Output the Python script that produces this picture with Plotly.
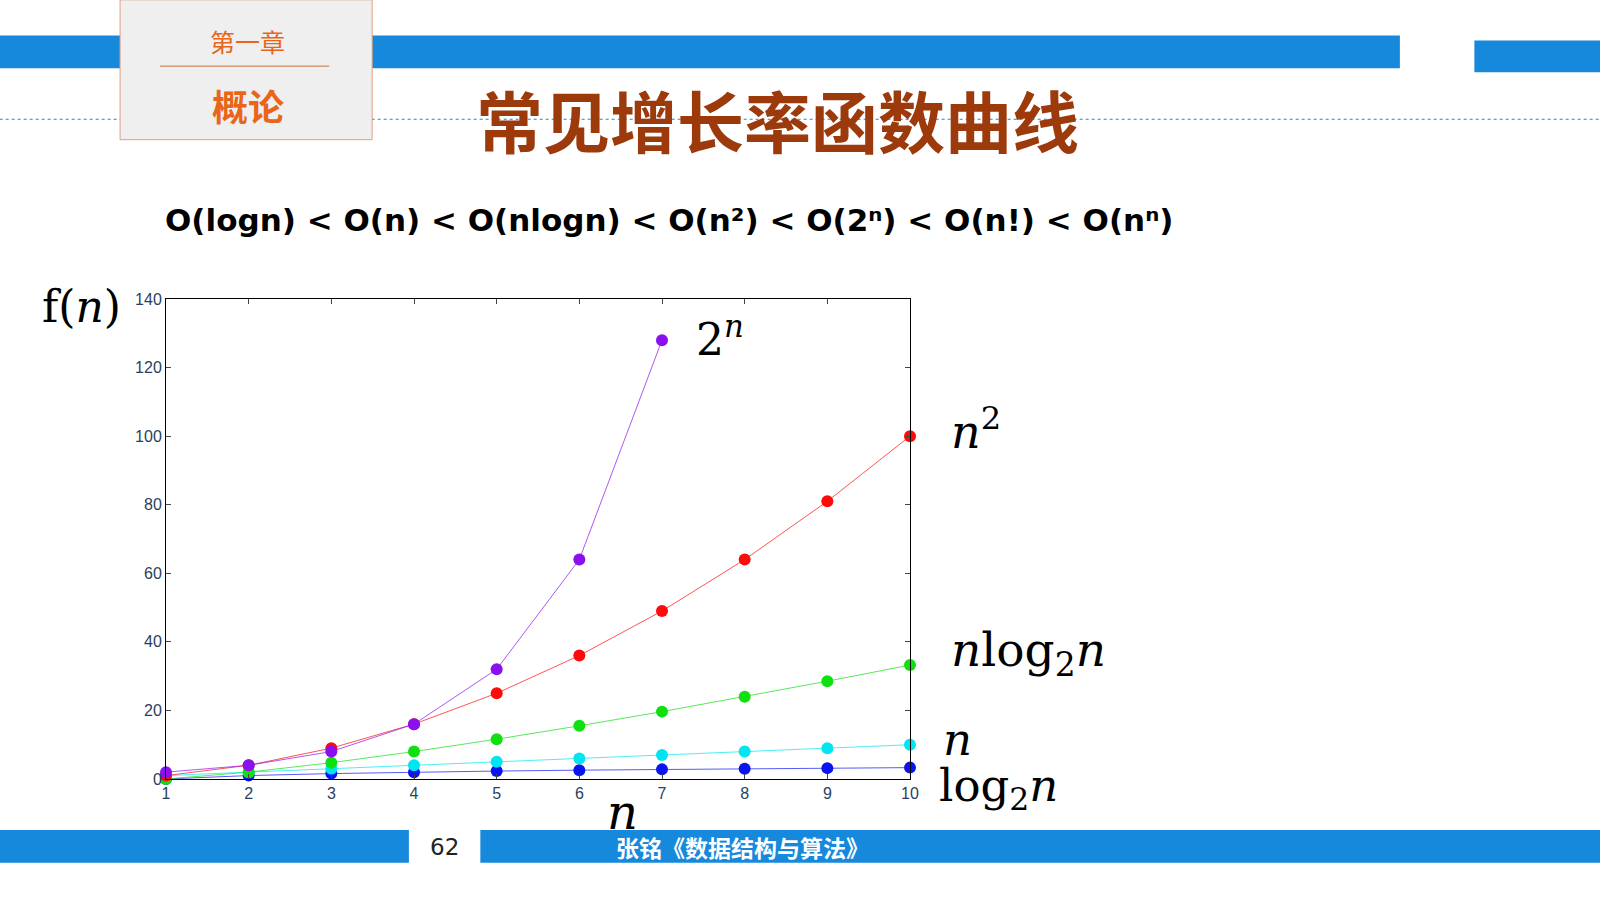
import plotly.graph_objects as go

n_all = [1, 2, 3, 4, 5, 6, 7, 8, 9, 10]
n_exp = [1, 2, 3, 4, 5, 6, 7]
pow2 = [2, 4, 8, 16, 32, 64, 128]
sq = [1, 4, 9, 16, 25, 36, 49, 64, 81, 100]
nlogn = [0, 2, 4.75, 8, 11.61, 15.51, 19.65, 24, 28.53, 33.22]
lin = [1, 2, 3, 4, 5, 6, 7, 8, 9, 10]
logn = [0, 1, 1.58, 2, 2.32, 2.58, 2.81, 3, 3.17, 3.32]
x_ticks = [1, 2, 3, 4, 5, 6, 7, 8, 9, 10]
y_ticks = [0, 20, 40, 60, 80, 100, 120, 140]

series = [
    (n_all, logn, "#0a14f0"),
    (n_all, lin, "#00e6f0"),
    (n_all, nlogn, "#10e010"),
    (n_all, sq, "#ff0a0a"),
    (n_exp, pow2, "#8a10f0"),
]

fig = go.Figure()
for xs, ys, c in series:
    fig.add_trace(go.Scatter(x=xs, y=ys, mode="lines+markers",
                             line=dict(color=c, width=0.7),
                             marker=dict(color=c, size=12), showlegend=False,
                             cliponaxis=False))

S = 1600 / 1568
W0, W1 = 163 * S, 892 * S
H0, H1 = 763 * S, 293 * S
def px(x): return (x * S - W0) / (W1 - W0)
def py(y): return (H0 - y * S) / (H0 - H1)

shapes = [
    dict(type="rect", xref="paper", yref="paper", x0=px(0), x1=px(1372), y0=py(67), y1=py(35),
         fillcolor="#1689dc", line_width=0),
    dict(type="rect", xref="paper", yref="paper", x0=px(1445), x1=px(1600), y0=py(71), y1=py(40),
         fillcolor="#1689dc", line_width=0),
    dict(type="line", xref="paper", yref="paper", x0=px(0), x1=px(1600), y0=py(117), y1=py(117),
         line=dict(color="#1689dc", width=1.2, dash="dot")),
    dict(type="rect", xref="paper", yref="paper", x0=px(118), x1=px(365), y0=py(137), y1=py(0),
         fillcolor="#efefef", line=dict(color="#e0a080", width=1)),
    dict(type="line", xref="paper", yref="paper", x0=px(157), x1=px(323), y0=py(65), y1=py(65),
         line=dict(color="#c87040", width=1)),
    dict(type="rect", xref="paper", yref="paper", x0=px(0), x1=px(401), y0=py(845), y1=py(813),
         fillcolor="#1689dc", line_width=0),
    dict(type="rect", xref="paper", yref="paper", x0=px(471), x1=px(1600), y0=py(845), y1=py(813),
         fillcolor="#1689dc", line_width=0),
]

def ann(x, y, text, size, color="black", family="DejaVu Serif", xanchor="left"):
    return dict(xref="paper", yref="paper", x=px(x), y=py(y), text=text, showarrow=False,
                font=dict(size=size, color=color, family=family), xanchor=xanchor, yanchor="middle")

annotations = [
    ann(243, 40, "第一章", 25, "#e8661a", "Noto Sans CJK SC", "center"),
    ann(243, 103, "<b>概论</b>", 36, "#e8661a", "Noto Sans CJK SC", "center"),
    ann(762, 116, "<b>常见增长率函数曲线</b>", 67, "#9c3a0c", "Noto Sans CJK SC", "center"),
    ann(160, 216, "<b>O(logn) &lt; O(n) &lt; O(nlogn) &lt; O(n²) &lt; O(2ⁿ) &lt; O(n!) &lt; O(nⁿ)</b>", 31,
        "black", "DejaVu Sans"),
    ann(40, 300, "f(<i>n</i>)", 44),
    ann(680, 330, "2<sup><i>n</i></sup>", 44),
    ann(930, 420, "<i>n</i><sup>2</sup>", 46),
    ann(930, 640, "<i>n</i>log<sub>2</sub><i>n</i>", 47),
    ann(922, 724, "<i>n</i>", 45),
    ann(918, 772, "log<sub>2</sub><i>n</i>", 45),
    ann(610, 795, "<i>n</i>", 48, xanchor="center"),
    ann(436, 830, "62", 23, "#222", "DejaVu Sans", "center"),
    ann(728, 830, "<b>张铭《数据结构与算法》</b>", 23, "white", "Noto Sans CJK SC", "center"),
]

fig.update_layout(
    width=1600, height=901, autosize=False,
    margin=dict(l=W0, r=1600 - W1, t=H1, b=901 - H0),
    paper_bgcolor="white", plot_bgcolor="white",
    shapes=shapes, annotations=annotations,
    xaxis=dict(range=[1, 10], tickvals=x_ticks, showgrid=False, zeroline=False,
               showline=True, linecolor="black", linewidth=1, mirror="ticks",
               ticks="inside", ticklen=5, tickfont=dict(size=16, family="Liberation Sans")),
    yaxis=dict(range=[0, 140], tickvals=y_ticks, showgrid=False, zeroline=False,
               showline=True, linecolor="black", linewidth=1, mirror="ticks",
               ticks="inside", ticklen=5, tickfont=dict(size=16, family="Liberation Sans")),
)
fig.write_html("out.html", config={"displayModeBar": False},
               post_script="document.body.style.margin='0';")
